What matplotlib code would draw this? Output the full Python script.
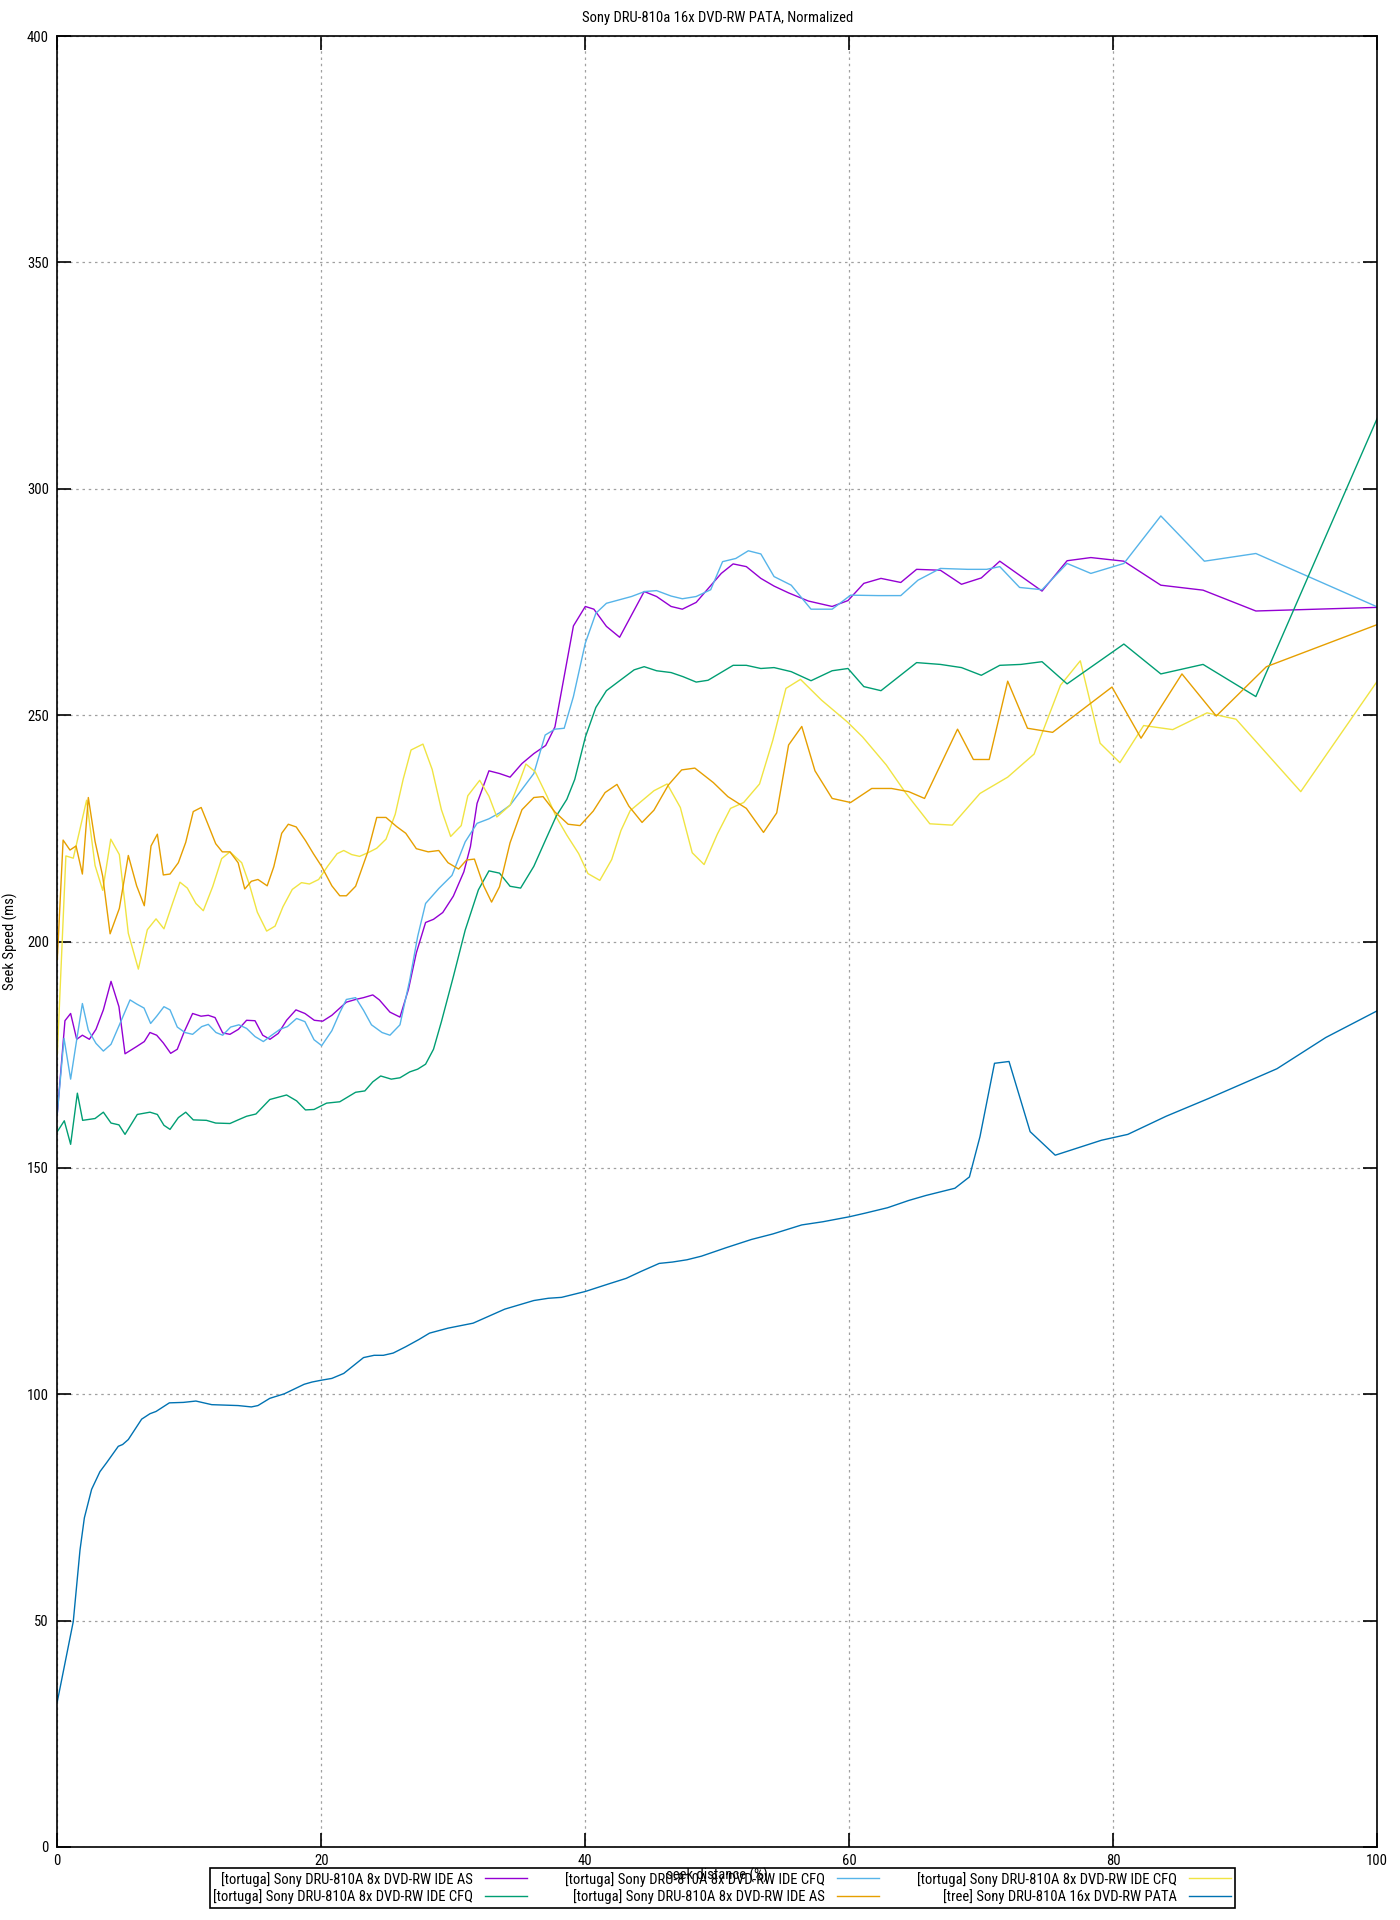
import matplotlib
matplotlib.use("Agg")
import matplotlib.pyplot as plt
from matplotlib import font_manager

# gnuplot's output uses a narrow sans; take the narrowest one that is installed
font_name, font_stretch = 'DejaVu Sans', 'normal'
wanted = ['Liberation Sans Narrow', 'Roboto Condensed', 'Open Sans Condensed',
          'Noto Sans Condensed', 'DejaVu Sans Condensed']
installed = font_manager.fontManager.ttflist
picked = False
for w in wanted:
    for f in installed:
        if f.name == w and f.style == 'normal':
            font_name, font_stretch = f.name, f.stretch
            picked = True
            break
    if picked:
        break
if not picked:
    for f in installed:
        if f.style == 'normal' and f.stretch in ('condensed', 'semi-condensed') and f.weight in (400, 'normal', 'regular'):
            font_name, font_stretch = f.name, f.stretch
            break

plt.rcParams['font.family'] = [font_name, 'DejaVu Sans']
plt.rcParams['font.stretch'] = font_stretch

# --- data (x = seek distance %, y = seek speed ms) ---
as1_x = [0.0, 0.58, 1.01, 1.47, 1.90, 2.43, 2.93, 3.49, 4.07, 4.67, 5.13, 6.01, 6.59, 7.02, 7.53,
         8.03, 8.59, 9.09, 9.62, 10.25, 10.89, 11.44, 11.95, 12.53, 13.08, 13.72, 14.34, 14.98,
         15.56, 16.11, 16.74, 17.37, 18.08, 18.76, 19.47, 20.1, 20.8, 21.9, 22.6, 23.2, 23.9, 24.4,
         25.2, 25.96, 26.6, 27.2, 27.9, 28.5, 29.2, 30.0, 30.8, 31.3, 31.8, 32.7, 33.5, 34.3, 35.2,
         36.1, 37.0, 37.7, 39.1, 40.0, 40.65, 41.6, 42.6, 44.46, 45.4, 46.5, 47.35, 48.4, 50.3,
         51.2, 52.2, 53.3, 54.3, 55.4, 56.9, 58.7, 59.9, 61.1, 62.4, 63.9, 65.1, 66.9, 68.5, 70.0,
         71.4, 72.9, 74.6, 76.5, 78.3, 80.8, 83.6, 86.8, 90.8, 100.0]
as1_y = [162.0, 182.5, 184.1, 178.4, 179.3, 178.4, 180.6, 184.9, 191.2, 185.6, 175.2, 176.8, 177.9,
         179.9, 179.3, 177.6, 175.3, 176.2, 180.1, 184.1, 183.5, 183.7, 183.2, 179.8, 179.5, 180.6,
         182.6, 182.5, 179.3, 178.4, 179.7, 182.6, 184.9, 184.1, 182.6, 182.4, 183.7, 186.6, 187.2,
         187.6, 188.2, 187.1, 184.4, 183.3, 189.4, 197.5, 204.2, 204.9, 206.4, 210.0, 215.4, 221.0,
         230.5, 237.7, 237.1, 236.3, 239.3, 241.5, 243.3, 247.4, 269.7, 274.0, 273.4, 269.6, 267.2,
         277.3, 276.2, 274.0, 273.4, 274.9, 281.3, 283.4, 282.8, 280.2, 278.5, 277.0, 275.2, 274.0,
         275.3, 279.1, 280.2, 279.3, 282.2, 282.0, 278.9, 280.3, 284.0, 280.9, 277.4, 284.1, 284.8,
         284.0, 278.7, 277.6, 273.0, 273.8]

cfq1_x = [0.0, 0.51, 1.01, 1.47, 1.90, 2.35, 2.93, 3.49, 4.07, 4.75, 5.51, 6.01, 6.57, 7.07, 7.53,
          8.08, 8.54, 9.09, 9.67, 10.25, 10.94, 11.44, 12.02, 12.53, 13.13, 13.76, 14.34, 14.98,
          15.61, 16.24, 16.87, 17.43, 18.13, 18.76, 19.45, 20.03, 20.8, 21.4, 21.9, 22.6, 23.2,
          23.8, 24.6, 25.2, 25.96, 26.7, 27.3, 27.9, 28.9, 29.9, 30.9, 31.8, 32.7, 33.5, 34.3,
          35.2, 36.1, 36.96, 37.7, 38.4, 39.1, 40.0, 40.8, 41.6, 43.5, 44.5, 45.4, 46.5, 47.35,
          48.4, 49.5, 50.4, 51.4, 52.35, 53.3, 54.3, 55.6, 57.1, 58.7, 60.1, 62.2, 63.9, 65.2,
          66.9, 68.97, 70.4, 71.4, 72.9, 74.6, 76.5, 78.3, 80.8, 83.6, 86.9, 90.8, 100.0]
cfq1_y = [162.0, 178.6, 169.6, 178.3, 186.3, 180.4, 177.5, 175.8, 177.3, 181.9, 187.1, 186.2,
          185.3, 181.9, 183.5, 185.6, 184.9, 181.1, 179.9, 179.5, 181.2, 181.7, 179.9, 179.3,
          181.1, 181.6, 180.8, 179.0, 177.9, 179.3, 180.6, 181.2, 183.0, 182.3, 178.3, 177.0,
          180.3, 184.3, 187.2, 187.6, 184.8, 181.6, 179.9, 179.3, 181.6, 191.5, 201.1, 208.4,
          211.7, 214.6, 222.0, 226.1, 227.1, 228.4, 230.1, 233.6, 237.1, 245.6, 246.9, 247.1,
          254.1, 265.9, 272.5, 274.7, 276.2, 277.3, 277.5, 276.3, 275.7, 276.2, 277.7, 283.9,
          284.6, 286.3, 285.6, 280.6, 278.7, 273.4, 273.4, 276.5, 276.4, 276.4, 279.8, 282.4,
          282.2, 282.2, 282.8, 278.2, 277.7, 283.5, 281.3, 283.5, 294.0, 284.0, 285.7, 273.9]

cfq2_x = [0.0, 0.53, 1.01, 1.52, 1.92, 2.86, 3.49, 4.07, 4.67, 5.13, 6.06, 7.02, 7.58, 8.08, 8.54,
          9.17, 9.73, 10.3, 11.3, 12.0, 13.08, 13.7, 14.34, 15.05, 16.1, 17.37, 18.13, 18.8,
          19.45, 20.4, 21.4, 22.6, 23.3, 23.9, 24.5, 25.3, 25.96, 26.7, 27.3, 27.9, 28.5, 29.1,
          30.0, 30.9, 31.9, 32.7, 33.5, 34.3, 35.1, 36.1, 37.0, 37.8, 38.6, 39.2, 40.01, 40.8,
          41.6, 42.6, 43.7, 44.46, 45.4, 46.5, 47.4, 48.4, 49.3, 51.2, 52.2, 53.3, 54.3, 55.6,
          57.1, 58.7, 59.9, 61.1, 62.4, 65.1, 66.9, 68.5, 70.0, 71.4, 73.0, 74.6, 76.5, 80.8,
          83.6, 86.8, 90.8, 100.0]
cfq2_y = [158.0, 160.4, 155.2, 166.5, 160.5, 160.9, 162.3, 159.9, 159.5, 157.4, 161.8, 162.3,
          161.8, 159.4, 158.5, 161.1, 162.3, 160.6, 160.5, 159.9, 159.8, 160.6, 161.4, 161.9,
          165.1, 166.1, 164.8, 162.8, 162.9, 164.3, 164.6, 166.7, 167.0, 169.0, 170.3, 169.6,
          169.9, 171.2, 171.8, 172.9, 176.2, 182.3, 192.2, 202.5, 211.4, 215.6, 215.1, 212.2,
          211.8, 216.6, 222.5, 227.7, 231.4, 235.8, 245.2, 251.7, 255.4, 257.6, 260.0, 260.7,
          259.8, 259.4, 258.5, 257.3, 257.7, 261.0, 261.0, 260.3, 260.5, 259.6, 257.6, 259.8,
          260.3, 256.3, 255.4, 261.6, 261.2, 260.5, 258.8, 261.0, 261.2, 261.8, 256.9, 265.7,
          259.1, 261.2, 254.1, 315.6]

as2_x = [0.0, 0.44, 0.96, 1.42, 1.90, 2.35, 2.86, 3.44, 4.0, 4.7, 5.38, 6.01, 6.59, 7.1, 7.58,
         8.03, 8.54, 9.17, 9.73, 10.3, 10.9, 11.44, 12.0, 12.5, 13.08, 13.7, 14.2, 14.7, 15.2,
         15.9, 16.4, 17.0, 17.5, 18.1, 18.8, 19.4, 20.0, 20.8, 21.4, 21.9, 22.6, 23.5, 24.2,
         24.9, 25.7, 26.4, 27.2, 28.1, 28.9, 29.6, 30.4, 31.0, 31.6, 32.3, 32.9, 33.5, 34.3,
         35.2, 36.1, 36.8, 37.7, 38.7, 39.6, 40.6, 41.5, 42.4, 43.3, 44.3, 45.2, 46.3, 47.3,
         48.3, 49.7, 50.8, 52.2, 53.5, 54.5, 55.4, 56.4, 57.4, 58.7, 60.1, 61.7, 63.2, 64.5,
         65.7, 68.2, 69.4, 70.6, 72.0, 73.5, 75.4, 79.9, 82.1, 85.2, 87.8, 91.6, 100.0]
as2_y = [196.0, 222.4, 220.2, 221.1, 214.9, 231.8, 222.1, 214.4, 201.7, 207.3, 219.0, 212.3,
         207.9, 221.1, 223.7, 214.7, 214.9, 217.4, 221.9, 228.7, 229.6, 225.7, 221.6, 219.8,
         219.8, 217.4, 211.6, 213.3, 213.7, 212.3, 216.5, 223.9, 225.9, 225.3, 222.3, 219.4,
         216.7, 212.3, 210.1, 210.1, 212.2, 219.6, 227.4, 227.4, 225.4, 223.9, 220.5, 219.8,
         220.1, 217.4, 216.0, 218.0, 218.2, 212.3, 208.7, 212.1, 221.8, 229.1, 231.8, 232.0,
         228.6, 225.9, 225.6, 228.8, 232.9, 234.7, 229.9, 226.3, 229.0, 234.6, 237.9, 238.3,
         235.1, 232.0, 229.4, 224.1, 228.4, 243.4, 247.5, 237.7, 231.6, 230.7, 233.8, 233.8,
         233.1, 231.6, 246.9, 240.2, 240.2, 257.5, 247.1, 246.2, 256.2, 244.9, 259.1, 249.8,
         260.7, 270.0]

cfq3_x = [0.0, 0.65, 1.21, 2.22, 2.86, 3.44, 4.05, 4.7, 5.38, 6.14, 6.82, 7.48, 8.08, 8.74, 9.29,
          9.85, 10.5, 11.06, 11.77, 12.45, 13.08, 13.97, 14.55, 15.15, 15.86, 16.5, 17.1, 17.8,
          18.5, 19.1, 19.8, 20.5, 21.2, 21.7, 22.3, 22.9, 23.6, 24.2, 24.9, 25.6, 26.2, 26.8,
          27.7, 28.4, 29.1, 29.8, 30.6, 31.1, 32.0, 32.7, 33.3, 34.3, 35.1, 35.5, 36.2, 37.1,
          37.8, 38.6, 39.5, 40.2, 41.1, 42.0, 42.7, 43.4, 45.2, 46.2, 47.2, 48.1, 49.0, 50.0,
          51.0, 52.0, 53.2, 54.2, 55.2, 56.3, 57.9, 59.85, 61.0, 62.8, 64.3, 66.1, 67.8, 69.9,
          72.0, 74.0, 76.0, 77.5, 79.0, 80.5, 82.3, 84.5, 87.1, 89.3, 94.2, 100.0]
cfq3_y = [175.0, 218.9, 218.4, 231.2, 216.8, 211.3, 222.6, 219.2, 201.8, 193.9, 202.6, 205.0,
          202.8, 208.5, 213.1, 211.8, 208.4, 206.8, 212.1, 218.3, 219.8, 217.4, 212.6, 206.5,
          202.3, 203.4, 207.7, 211.5, 213.0, 212.7, 213.7, 216.7, 219.4, 220.1, 219.2, 218.8,
          219.7, 220.6, 222.6, 228.1, 235.8, 242.3, 243.6, 238.0, 229.1, 223.2, 225.6, 232.2,
          235.6, 232.1, 227.5, 230.1, 236.0, 239.2, 237.5, 232.1, 227.5, 223.5, 219.4, 215.0,
          213.5, 218.1, 224.5, 228.9, 233.3, 234.8, 229.6, 219.6, 217.0, 223.7, 229.4, 230.7,
          234.8, 244.4, 255.9, 257.9, 253.3, 248.5, 245.2, 239.0, 232.7, 226.0, 225.7, 232.7,
          236.3, 241.4, 256.6, 262.0, 243.8, 239.5, 247.7, 246.8, 250.5, 249.1, 233.1, 257.5]

tree_x = [0.0, 1.21, 1.72, 2.05, 2.6, 3.23, 3.74, 4.62, 4.95, 5.38, 6.39, 7.02, 7.48, 8.49, 9.55,
          10.5, 11.7, 13.7, 14.7, 15.2, 16.1, 17.2, 18.7, 19.3, 20.0, 20.8, 21.7, 23.2, 24.0,
          24.7, 25.45, 26.4, 27.4, 28.2, 29.6, 31.5, 33.9, 36.1, 37.2, 38.2, 40.0, 41.8, 43.1,
          44.2, 45.6, 46.6, 47.7, 48.8, 50.7, 52.6, 54.2, 56.4, 58.0, 60.0, 61.2, 62.9, 64.5,
          65.8, 68.0, 69.1, 69.9, 71.0, 72.1, 73.7, 75.6, 79.1, 81.1, 84.0, 87.2, 92.4, 96.1,
          100.0]
tree_y = [32.1, 49.8, 65.6, 72.7, 79.0, 82.9, 84.9, 88.5, 88.9, 90.0, 94.5, 95.7, 96.2, 98.1,
          98.2, 98.5, 97.7, 97.5, 97.2, 97.5, 99.1, 100.1, 102.2, 102.7, 103.1, 103.5, 104.6,
          108.1, 108.6, 108.6, 109.1, 110.5, 112.1, 113.5, 114.6, 115.7, 118.8, 120.7, 121.2,
          121.4, 122.7, 124.4, 125.6, 127.1, 128.9, 129.2, 129.7, 130.5, 132.4, 134.2, 135.4,
          137.4, 138.1, 139.2, 140.0, 141.2, 142.8, 143.9, 145.5, 148.0, 156.9, 173.1, 173.5,
          158.0, 152.8, 156.1, 157.4, 161.4, 165.3, 171.9, 178.8, 184.7]

labels = [
    "[tortuga] Sony DRU-810A 8x DVD-RW IDE AS",
    "[tortuga] Sony DRU-810A 8x DVD-RW IDE CFQ",
    "[tortuga] Sony DRU-810A 8x DVD-RW IDE CFQ",
    "[tortuga] Sony DRU-810A 8x DVD-RW IDE CFQ",
    "[tortuga] Sony DRU-810A 8x DVD-RW IDE AS",
    "[tree] Sony DRU-810A 16x DVD-RW PATA",
]
colors = ['#9400d3', '#56b4e9', '#f0e442', '#009e73', '#e69f00', '#0072b2']
series = [(as1_x, as1_y), (cfq1_x, cfq1_y), (cfq3_x, cfq3_y),
          (cfq2_x, cfq2_y), (as2_x, as2_y), (tree_x, tree_y)]

fs = 10.5

fig = plt.figure(figsize=(14, 19.2), dpi=100)
ax = fig.add_axes([57.3 / 1400, 1 - 1847 / 1920, 1320 / 1400, 1811 / 1920])

lines = []
for (xs, ys), c, lab in zip(series, colors, labels):
    ln, = ax.plot(xs, ys, color=c, lw=1.0, label=lab)
    lines.append(ln)

ax.set_xlim(0, 100)
ax.set_ylim(0, 400)
ax.set_xticks(range(0, 101, 20))
ax.set_yticks(range(0, 401, 50))
ax.tick_params(direction='in', length=10, width=1.2, top=True, right=True,
               labelsize=fs, pad=5)
ax.tick_params(axis='y', pad=6)
ax.grid(True, color='#a0a0a0', linestyle=(0, (2, 3)), linewidth=0.9)
for sp in ax.spines.values():
    sp.set_linewidth(1.2)

ax.set_title("Sony DRU-810a 16x DVD-RW PATA, Normalized", fontsize=fs, pad=10)
ax.set_ylabel("Seek Speed (ms)", fontsize=fs)
ax.yaxis.set_label_coords(-0.03, 0.5)
ax.set_xlabel("seek distance (%)", fontsize=fs)
ax.xaxis.set_label_coords(0.5, -0.0115)

# gnuplot-style key: 3 columns, text right-aligned before the sample line
order = [0, 3, 1, 4, 2, 5]
leg = fig.legend([lines[i] for i in order], [labels[i] for i in order],
                 ncol=3, markerfirst=False, loc='center',
                 bbox_to_anchor=(722 / 1400, 1 - 1888 / 1920),
                 fontsize=fs, frameon=True, fancybox=False, framealpha=1,
                 edgecolor='black', handlelength=2.9, handletextpad=0.8,
                 columnspacing=2.6, labelspacing=0.2, borderpad=0.25)
leg.get_frame().set_facecolor('none')
leg.get_frame().set_linewidth(1.2)

fig.savefig("out.png", dpi=100)
